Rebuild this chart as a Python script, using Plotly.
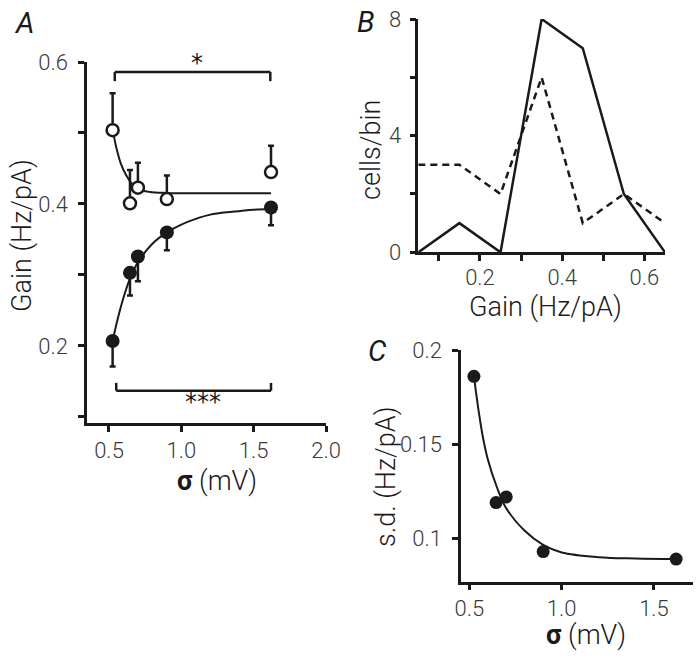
import plotly.graph_objects as go

W, H = 700, 661

# ---------------- data ----------------
# Panel A
sigma = [0.525, 0.645, 0.70, 0.90, 1.62]
gain_open = [0.504, 0.401, 0.423, 0.407, 0.445]
gain_open_err = [0.052, 0.047, 0.035, 0.033, 0.037]
gain_filled = [0.207, 0.303, 0.326, 0.360, 0.395]
gain_filled_err = [0.036, 0.032, 0.035, 0.025, 0.025]
fit_open_x = [0.525, 0.55, 0.58, 0.62, 0.66, 0.70, 0.78, 0.90, 1.20, 1.62]
fit_open_y = [0.505, 0.480, 0.458, 0.440, 0.428, 0.421, 0.417, 0.4155, 0.415, 0.415]
fit_filled_x = [0.525, 0.56, 0.60, 0.645, 0.70, 0.80, 0.90, 1.00, 1.10, 1.20, 1.35, 1.50, 1.62]
fit_filled_y = [0.207, 0.238, 0.268, 0.295, 0.318, 0.344, 0.360, 0.371, 0.379, 0.385, 0.389, 0.392, 0.393]
bracket_top = dict(x0=0.54, x1=1.615, y=0.586, tip=0.573, label="*", lx=1.11, ly=0.5986)
bracket_bot = dict(x0=0.55, x1=1.62, y=0.137, tip=0.148, label="***", lx=1.15, ly=0.121)

# Panel B
bin_centers = [0.05, 0.15, 0.25, 0.35, 0.45, 0.55, 0.65]
cells_solid = [0, 1, 0, 8, 7, 2, 0]
cells_dashed = [3, 3, 2, 6, 1, 2, 1]

# Panel C
sd_values = [0.186, 0.119, 0.122, 0.093, 0.089]
fit_sd_x = [0.525, 0.55, 0.575, 0.60, 0.65, 0.70, 0.80, 0.90, 1.00, 1.20, 1.40, 1.62]
fit_sd_y = [0.186, 0.168, 0.153, 0.142, 0.127, 0.116, 0.104, 0.0965, 0.0925, 0.090, 0.0893, 0.089]

# ---------------- helpers ----------------
def fx(px):
    return px / W

def fy(py):
    return 1 - py / H

FONT = "Roboto"
TICKCOL = "#3a3a3a"
LINECOL = "#1a1a1a"
TICKFONT = dict(family=FONT, size=22, color=TICKCOL, weight=300)

fig = go.Figure()

# Panel A traces
fig.add_trace(go.Scatter(x=fit_open_x, y=fit_open_y, mode="lines", line=dict(color=LINECOL, width=2, shape="spline"),
                         xaxis="x", yaxis="y", showlegend=False))
fig.add_trace(go.Scatter(x=fit_filled_x, y=fit_filled_y, mode="lines", line=dict(color=LINECOL, width=2, shape="spline"),
                         xaxis="x", yaxis="y", showlegend=False))
fig.add_trace(go.Scatter(x=sigma, y=gain_open, mode="markers",
                         marker=dict(size=12, color="white", line=dict(color=LINECOL, width=2.5)),
                         error_y=dict(type="data", symmetric=False, array=gain_open_err,
                                      arrayminus=[0] * len(gain_open_err), color=LINECOL, thickness=2.5, width=3),
                         xaxis="x", yaxis="y", showlegend=False))
fig.add_trace(go.Scatter(x=sigma, y=gain_filled, mode="markers",
                         marker=dict(size=14, color=LINECOL, line=dict(width=0)),
                         error_y=dict(type="data", symmetric=False, array=[0] * len(gain_filled_err),
                                      arrayminus=gain_filled_err, color=LINECOL, thickness=2.5, width=3),
                         xaxis="x", yaxis="y", showlegend=False))

# Panel B traces
fig.add_trace(go.Scatter(x=bin_centers, y=cells_dashed, mode="lines",
                         line=dict(color=LINECOL, width=2.5, dash="7px,5px"),
                         xaxis="x2", yaxis="y2", showlegend=False, cliponaxis=False))
fig.add_trace(go.Scatter(x=bin_centers, y=cells_solid, mode="lines",
                         line=dict(color=LINECOL, width=2.5),
                         xaxis="x2", yaxis="y2", showlegend=False, cliponaxis=False))

# Panel C traces
fig.add_trace(go.Scatter(x=fit_sd_x, y=fit_sd_y, mode="lines", line=dict(color=LINECOL, width=2, shape="spline"),
                         xaxis="x3", yaxis="y3", showlegend=False))
fig.add_trace(go.Scatter(x=sigma, y=sd_values, mode="markers",
                         marker=dict(size=13, color=LINECOL, line=dict(width=0)),
                         xaxis="x3", yaxis="y3", showlegend=False))

axis_common = dict(showline=True, linecolor=LINECOL, linewidth=2.5, ticks="outside", ticklen=6,
                   tickwidth=2.5, tickcolor=LINECOL, showgrid=False, zeroline=False,
                   tickfont=TICKFONT, automargin=False, ticklabeloverflow="allow")

shapes = []
annotations = []
for b in (bracket_top, bracket_bot):
    shapes.append(dict(type="line", xref="x", yref="y", x0=b["x0"], x1=b["x1"], y0=b["y"], y1=b["y"],
                       line=dict(color=LINECOL, width=2.5)))
    for xx in (b["x0"], b["x1"]):
        shapes.append(dict(type="line", xref="x", yref="y", x0=xx, x1=xx, y0=b["y"], y1=b["tip"],
                           line=dict(color=LINECOL, width=2.5)))
    annotations.append(dict(text=b["label"], x=b["lx"], y=b["ly"], xref="x", yref="y", showarrow=False,
                            font=dict(family="DejaVu Sans", size=24, color=LINECOL)))

# Axis titles & panel labels as annotations (pixel placed)
def pa(text, px, py, size=27, angle=0, italic=False, weight=300):
    annotations.append(dict(text=("<i>%s</i>" % text) if italic else text, x=fx(px), y=fy(py),
                            xref="paper", yref="paper", showarrow=False, textangle=angle,
                            xanchor="center", yanchor="middle",
                            font=dict(family=FONT, size=size, color="#1a1a1a", weight=weight)))

pa("A", 24, 23, size=29, italic=True, weight=400)
pa("B", 366, 22, size=29, italic=True, weight=400)
pa("C", 377, 351, size=29, italic=True, weight=400)
pa("Gain (Hz/pA)", 22, 236, angle=-90)
pa("<b>σ</b> (mV)", 217, 481)
pa("cells/bin", 371, 150, angle=-90)
pa("Gain (Hz/pA)", 545, 307)
pa("s.d. (Hz/pA)", 386, 477, angle=-90)
pa("<b>σ</b> (mV)", 586, 635)

fig.update_layout(
    width=W, height=H, margin=dict(l=0, r=0, t=0, b=0, pad=0, autoexpand=False),
    paper_bgcolor="white", plot_bgcolor="white", showlegend=False,
    xaxis=dict(axis_common, domain=[fx(87), fx(326)], range=[0.348, 2.0], anchor="y",
               tickvals=[0.5, 1.0, 1.5, 2.0], ticktext=["0.5", "1.0", "1.5", "2.0"], ticklabelstandoff=0),
    yaxis=dict(axis_common, domain=[fy(423), fy(62)], range=[0.0915, 0.6], anchor="x",
               tickvals=[0.1, 0.2, 0.3, 0.4, 0.5, 0.6], ticktext=["", "0.2", "", "0.4", "", "0.6"],
               ticklabelstandoff=6),
    xaxis2=dict(axis_common, domain=[fx(418.3), fx(665)], range=[0.05, 0.65], anchor="y2",
                tickvals=[0.1, 0.2, 0.3, 0.4, 0.5, 0.6], ticktext=["", "0.2", "", "0.4", "", "0.6"],
                ticklabelstandoff=-2),
    yaxis2=dict(axis_common, domain=[fy(252.3), fy(19)], range=[0, 8], anchor="x2",
                tickvals=[0, 2, 4, 6, 8], ticktext=["0", "", "4", "", "8"], ticklabelstandoff=4),
    xaxis3=dict(axis_common, domain=[fx(461), fx(693.3)], range=[0.455, 1.713], anchor="y3",
                tickvals=[0.5, 1.0, 1.5], ticktext=["0.5", "1.0", "1.5"], ticklabelstandoff=-1),
    yaxis3=dict(axis_common, domain=[fy(581.7), fy(350)], range=[0.077, 0.2], anchor="x3",
                tickvals=[0.1, 0.15, 0.2], ticktext=["0.1", "0.15", "0.2"], ticklabelstandoff=6),
    shapes=shapes, annotations=annotations,
)

fig.write_html("out.html", config={"displayModeBar": False},
               post_script="document.body.style.margin='0';document.body.style.overflow='hidden';")
